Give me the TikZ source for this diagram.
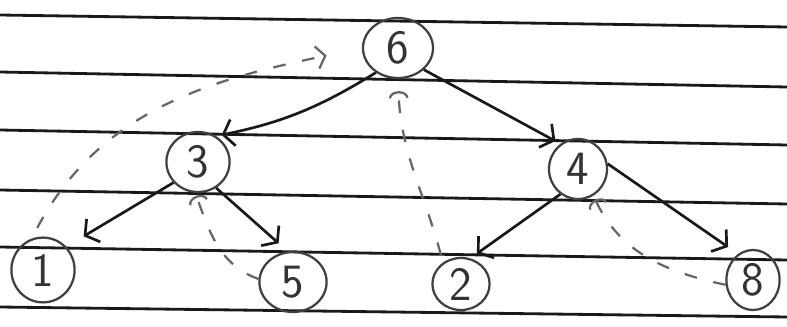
\documentclass[tikz,border=0pt]{standalone}
\usepackage{tikz}
\usetikzlibrary{arrows.meta,shapes.geometric}

\begin{document}
\begin{tikzpicture}[
    x=0.025cm, y=-0.025cm,
    vert/.style={ellipse, draw=black!75, line width=1.6pt, inner sep=0pt,
                 minimum width=1.55cm, minimum height=1.5cm,
                 font=\sffamily\fontsize{34}{38}\selectfont, text=black!80},
    ruled/.style={line width=2pt, black!90},
    arr/.style={-{Straight Barb[length=7pt,width=19pt,line width=1.9pt]},
                line width=1.9pt, black!90},
    thread/.style={-{Arc Barb[length=5pt,width=14pt,line width=1.6pt]},
                   line width=1.6pt, black!60,
                   dash pattern=on 9pt off 12pt},
]

%% ─── Notebook lines ─────────────────────────────────────────────────────────
\useasboundingbox (0,0) rectangle (787,327);
\draw[ruled] (0,15)  -- (787,27);
\draw[ruled] (0,72)  -- (787,87);
\draw[ruled] (0,130) -- (787,145);
\draw[ruled] (0,190) -- (787,204);
\draw[ruled] (0,247) -- (787,260);
\draw[ruled] (0,307) -- (787,317);

%% ─── Tree nodes ─────────────────────────────────────────────────────────────
\node[vert, minimum width=1.75cm] (n6) at (398,48) {6};
\node[vert, minimum width=1.58cm] (n3) at (198,162) {3};
\node[vert, minimum width=1.45cm] (n4) at (578,169) {4};
\node[vert, minimum width=1.58cm, minimum height=1.62cm] (n1) at (43,270) {1};
\node[vert, minimum width=1.68cm] (n5) at (293,282) {5};
\node[vert, minimum width=1.43cm, minimum height=1.3cm] (n2) at (461,284) {2};
\node[vert, minimum width=1.33cm] (n8) at (753,280) {8};

%% ─── Child links ────────────────────────────────────────────────────────────
\draw[arr, shorten >=4pt] (n6.228) to[bend left=10] (n3.55);
\draw[arr, shorten >=4pt] (n6.-40) -- (n4.125);
\draw[arr, shorten >=0.5cm] (n3.220) -- (n1.45);
\draw[arr, shorten >=0.3cm] (n3.-55) -- (n5.100);
\draw[arr, shorten >=0.2cm] (n4.-125) -- (n2.70);
\draw[arr, shorten >=0.3cm] (n4.10) -- (n8.120);

%% ─── Threads (dashed) ───────────────────────────────────────────────────────
\draw[thread, -{Straight Barb[length=6pt,width=16pt,line width=1.6pt]},
      shorten <=0.3cm, shorten >=0.9cm]
    (n1.110) to[out=62, in=192] (n6.west);
\draw[thread, shorten >=2pt] (n5.175) to[out=160, in=-70] (n3.-95);
\draw[thread, shorten <=0.2cm, shorten >=0.3cm]
    (n2.130) to[out=105, in=-88] (n6.south);
\draw[thread, shorten >=3pt] (n8.190) to[out=168, in=-65] (n4.-60);

\end{tikzpicture}
\end{document}
